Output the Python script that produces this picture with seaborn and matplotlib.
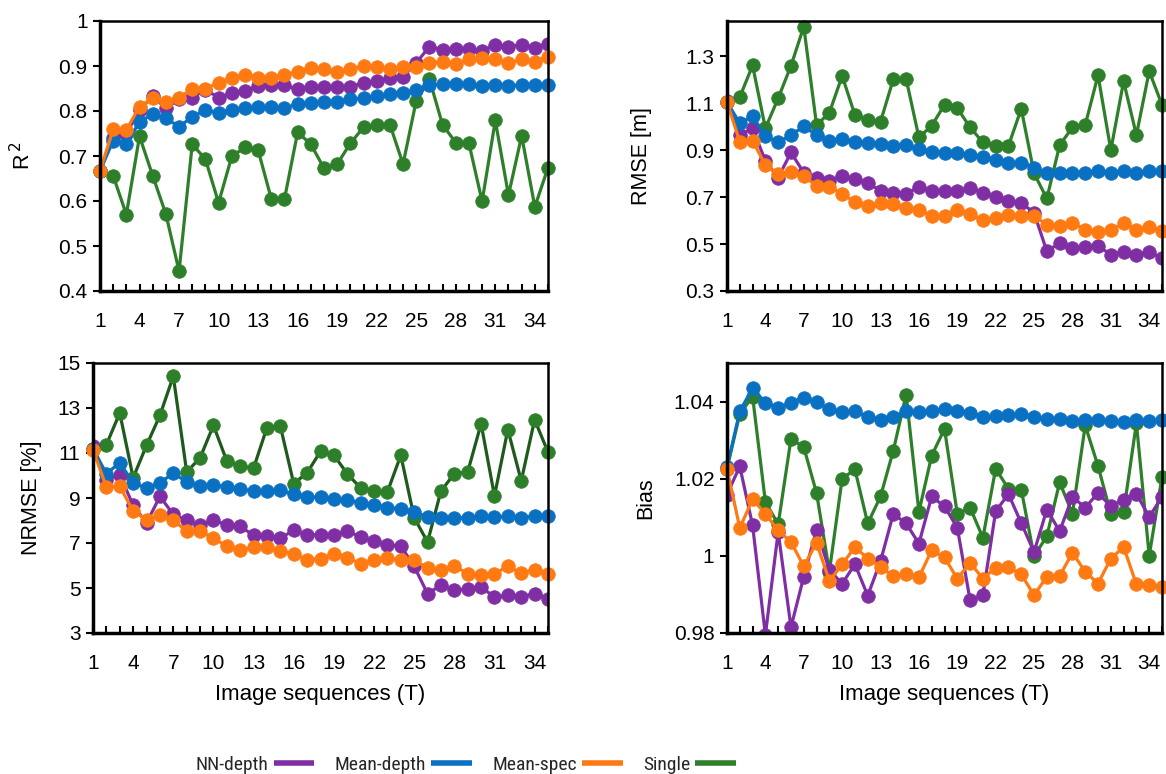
import numpy as np
import pandas as pd
import matplotlib
matplotlib.use("Agg")
import matplotlib.pyplot as plt
from matplotlib.ticker import MultipleLocator, FuncFormatter, FixedLocator
from matplotlib.lines import Line2D
from matplotlib import font_manager
import seaborn as sns

# ---------------- data ----------------
seq = list(range(1, 36))
xtick_labels = [1, 4, 7, 10, 13, 16, 19, 22, 25, 28, 31, 34]
series_names = ["NN-depth", "Mean-depth", "Mean-spec", "Single"]

r2_nn = [0.667, 0.740, 0.750, 0.802, 0.833, 0.806, 0.826, 0.830, 0.847, 0.830,
         0.839, 0.844, 0.856, 0.858, 0.858, 0.848, 0.854, 0.854, 0.853, 0.853,
         0.863, 0.867, 0.873, 0.876, 0.907, 0.943, 0.936, 0.937, 0.937, 0.934,
         0.947, 0.943, 0.947, 0.941, 0.950]
r2_meandepth = [0.667, 0.734, 0.727, 0.776, 0.793, 0.784, 0.765, 0.787, 0.802, 0.796,
                0.802, 0.806, 0.808, 0.808, 0.807, 0.815, 0.817, 0.821, 0.821, 0.827,
                0.828, 0.833, 0.838, 0.839, 0.847, 0.858, 0.860, 0.860, 0.860, 0.856,
                0.858, 0.856, 0.858, 0.858, 0.858]
r2_meanspec = [0.667, 0.759, 0.758, 0.810, 0.828, 0.819, 0.830, 0.849, 0.849, 0.863,
               0.874, 0.881, 0.874, 0.874, 0.881, 0.887, 0.895, 0.893, 0.887, 0.893,
               0.900, 0.897, 0.893, 0.897, 0.897, 0.907, 0.910, 0.904, 0.915, 0.917,
               0.915, 0.906, 0.915, 0.910, 0.921]
r2_single = [0.667, 0.656, 0.570, 0.744, 0.656, 0.571, 0.444, 0.726, 0.693, 0.596,
             0.699, 0.719, 0.713, 0.605, 0.604, 0.753, 0.726, 0.673, 0.682, 0.728,
             0.764, 0.769, 0.770, 0.682, 0.823, 0.871, 0.769, 0.730, 0.728, 0.599,
             0.779, 0.613, 0.745, 0.587, 0.674]

rmse_nn = [1.108, 0.964, 0.993, 0.854, 0.783, 0.890, 0.804, 0.783, 0.769, 0.790,
           0.776, 0.761, 0.726, 0.719, 0.714, 0.744, 0.726, 0.726, 0.726, 0.740,
           0.719, 0.700, 0.683, 0.676, 0.633, 0.469, 0.504, 0.483, 0.487, 0.493,
           0.454, 0.464, 0.454, 0.466, 0.440]
rmse_meandepth = [1.104, 1.015, 1.044, 0.961, 0.933, 0.964, 1.001, 0.964, 0.940, 0.947,
                  0.936, 0.930, 0.926, 0.919, 0.921, 0.904, 0.893, 0.887, 0.887, 0.879,
                  0.871, 0.857, 0.847, 0.847, 0.826, 0.804, 0.801, 0.804, 0.804, 0.809,
                  0.804, 0.809, 0.804, 0.809, 0.809]
rmse_meanspec = [1.104, 0.936, 0.940, 0.836, 0.797, 0.807, 0.790, 0.747, 0.743, 0.714,
                 0.679, 0.661, 0.673, 0.669, 0.655, 0.647, 0.619, 0.621, 0.643, 0.626,
                 0.601, 0.611, 0.623, 0.619, 0.619, 0.583, 0.576, 0.590, 0.561, 0.550,
                 0.559, 0.590, 0.561, 0.573, 0.554]
rmse_single = [1.104, 1.126, 1.261, 0.993, 1.121, 1.259, 1.426, 1.007, 1.059, 1.216,
               1.050, 1.029, 1.021, 1.202, 1.204, 0.954, 1.004, 1.093, 1.079, 0.997,
               0.933, 0.919, 0.919, 1.076, 0.801, 0.694, 0.921, 0.997, 1.007, 1.219,
               0.900, 1.193, 0.964, 1.236, 1.093]

nrmse_nn = [11.30, 9.81, 10.04, 8.67, 7.89, 9.07, 8.27, 8.01, 7.79, 8.01,
            7.81, 7.74, 7.34, 7.30, 7.22, 7.56, 7.37, 7.37, 7.37, 7.53,
            7.27, 7.07, 6.93, 6.87, 5.96, 4.75, 5.12, 4.90, 4.97, 5.04,
            4.60, 4.67, 4.60, 4.75, 4.53]
nrmse_meandepth = [11.19, 10.08, 10.57, 9.67, 9.44, 9.67, 10.11, 9.71, 9.52, 9.59,
                   9.49, 9.41, 9.30, 9.30, 9.34, 9.16, 9.04, 9.04, 8.97, 8.90,
                   8.78, 8.70, 8.57, 8.53, 8.38, 8.16, 8.13, 8.13, 8.13, 8.19,
                   8.16, 8.19, 8.13, 8.19, 8.19]
nrmse_meanspec = [11.15, 9.49, 9.52, 8.42, 8.04, 8.23, 8.01, 7.53, 7.52, 7.22,
                  6.85, 6.67, 6.82, 6.82, 6.63, 6.53, 6.25, 6.30, 6.53, 6.35,
                  6.08, 6.23, 6.33, 6.23, 6.23, 5.90, 5.81, 5.98, 5.64, 5.56,
                  5.64, 5.96, 5.67, 5.81, 5.61]
nrmse_single = [11.19, 11.37, 12.78, 9.90, 11.34, 12.67, 14.41, 10.16, 10.78, 12.23,
                10.64, 10.41, 10.33, 12.13, 12.19, 9.64, 10.12, 11.07, 10.90, 10.08,
                9.44, 9.31, 9.27, 10.90, 8.13, 7.04, 9.31, 10.08, 10.16, 12.30,
                9.09, 12.04, 9.76, 12.48, 11.04]

bias_nn = [1.0159, 1.0232, 1.0079, 0.9795, 1.0062, 0.9815, 0.9946, 1.0068, 0.9963, 0.9928,
           0.9978, 0.9897, 0.9986, 1.0109, 1.0084, 1.0032, 1.0154, 1.0128, 1.0073, 0.9885,
           0.9898, 1.0116, 1.0160, 1.0085, 1.0010, 1.0120, 1.0064, 1.0153, 1.0125, 1.0163,
           1.0128, 1.0146, 1.0161, 1.0101, 1.0153]
bias_meandepth = [1.0230, 1.0375, 1.0435, 1.0397, 1.0384, 1.0397, 1.0410, 1.0398, 1.0380, 1.0372,
                  1.0375, 1.0360, 1.0353, 1.0361, 1.0375, 1.0372, 1.0375, 1.0381, 1.0375, 1.0371,
                  1.0361, 1.0362, 1.0364, 1.0368, 1.0360, 1.0355, 1.0355, 1.0349, 1.0353, 1.0353,
                  1.0349, 1.0347, 1.0353, 1.0349, 1.0351]
bias_meanspec = [1.0226, 1.0072, 1.0147, 1.0109, 1.0066, 1.0036, 0.9973, 1.0034, 0.9935, 0.9978,
                 1.0023, 0.9993, 0.9972, 0.9947, 0.9954, 0.9944, 1.0015, 0.9996, 0.9941, 0.9982,
                 0.9941, 0.9969, 0.9970, 0.9952, 0.9898, 0.9946, 0.9948, 1.0008, 0.9959, 0.9928,
                 0.9993, 1.0023, 0.9926, 0.9924, 0.9920]
bias_single = [1.0226, 1.0368, 1.0413, 1.0140, 1.0082, 1.0303, 1.0282, 1.0163, 0.9959, 1.0200,
               1.0224, 1.0084, 1.0154, 1.0273, 1.0418, 1.0114, 1.0260, 1.0329, 1.0109, 1.0125,
               1.0047, 1.0226, 1.0174, 1.0172, 0.9999, 1.0051, 1.0191, 1.0109, 1.0338, 1.0233,
               1.0109, 1.0114, 1.0344, 1.0000, 1.0204]

# ---------------- style ----------------
sns.set_theme(style="ticks")
plt.rcParams["font.family"] = ["Liberation Sans", "DejaVu Sans"]

colors = {"NN-depth": "#7F2FA3", "Mean-depth": "#0A70C2",
          "Mean-spec": "#FF7A12", "Single": "#2E7F2A"}

W, H = 1166, 774
fig = plt.figure(figsize=(W / 100, H / 100), dpi=100)

def rect(l, t, r, b):
    return [l / W, 1 - b / H, (r - l) / W, (b - t) / H]

panels = [
    dict(rect=rect(100, 21, 548, 291), data=[r2_nn, r2_meandepth, r2_meanspec, r2_single],
         ylim=(0.4, 1.0), yticks=np.arange(0.4, 1.001, 0.1), ylabel="R$^{\\,2}$", xlabel=None,
         single_line=None, labx=-0.145),
    dict(rect=rect(727, 21, 1162, 291), data=[rmse_nn, rmse_meandepth, rmse_meanspec, rmse_single],
         ylim=(0.3, 1.45), yticks=np.arange(0.3, 1.31, 0.2), ylabel="RMSE [m]", xlabel=None,
         single_line=None, labx=-0.172),
    dict(rect=rect(93, 363, 548, 633), data=[nrmse_nn, nrmse_meandepth, nrmse_meanspec, nrmse_single],
         ylim=(3, 15), yticks=np.arange(3, 15.1, 2), ylabel="NRMSE [%]", xlabel="Image sequences (T)",
         single_line="#1E5A1C", labx=-0.112),
    dict(rect=rect(727, 363, 1162, 633), data=[bias_nn, bias_meandepth, bias_meanspec, bias_single],
         ylim=(0.98, 1.05), yticks=np.arange(0.98, 1.041, 0.02), ylabel="Bias", xlabel="Image sequences (T)",
         single_line=None, labx=-0.163),
]

fmt = FuncFormatter(lambda v, p: f"{round(v, 4):g}")

for pnl in panels:
    ax = fig.add_axes(pnl["rect"])
    rows = []
    for name, vals in zip(series_names, pnl["data"]):
        for x, v in zip(seq, vals):
            rows.append((name, x, v))
    df = pd.DataFrame(rows, columns=["series", "T", "value"])
    # draw order: Single at bottom, then NN-depth, Mean-depth, Mean-spec
    for name in ["Single", "NN-depth", "Mean-depth", "Mean-spec"]:
        sub = df[df["series"] == name]
        lc = colors[name]
        if name == "Single" and pnl["single_line"]:
            lc = pnl["single_line"]
        sns.lineplot(data=sub, x="T", y="value", ax=ax, color=lc, linewidth=2.3,
                     marker="o", markersize=9.8, markerfacecolor=colors[name],
                     markeredgecolor=colors[name], markeredgewidth=0.5,
                     legend=False, clip_on=False if name != "NN-depth" else True)
    ax.set_xlim(1, 35)
    ax.set_ylim(*pnl["ylim"])
    ax.yaxis.set_major_locator(FixedLocator(pnl["yticks"]))
    ax.yaxis.set_major_formatter(fmt)
    ax.xaxis.set_major_locator(FixedLocator(xtick_labels))
    ax.xaxis.set_minor_locator(MultipleLocator(1))
    ax.tick_params(axis="x", which="both", direction="in", length=5, width=1.5,
                   labelsize=15, pad=15, colors="black")
    ax.tick_params(axis="y", which="major", direction="out", length=5, width=1.5,
                   labelsize=15, colors="black", pad=4)
    for s in ["left", "bottom"]:
        ax.spines[s].set_linewidth(2.5)
        ax.spines[s].set_color("black")
    for s in ["top", "right"]:
        ax.spines[s].set_visible(True)
        ax.spines[s].set_linewidth(1.8)
        ax.spines[s].set_color("black")
    ax.set_ylabel(pnl["ylabel"], fontsize=15.5, color="black")
    ax.yaxis.set_label_coords(pnl["labx"], 0.5)
    if pnl["xlabel"]:
        ax.set_xlabel(pnl["xlabel"], fontsize=16, color="black", labelpad=8)
    else:
        ax.set_xlabel("")
    ax.grid(False)

# legend font: a condensed face if one is installed, else regular
names = {f.name for f in font_manager.fontManager.ttflist}
narrow = None
for cand in ["Liberation Sans Narrow", "Arial Narrow", "Roboto Condensed",
             "Open Sans Condensed", "Noto Sans Display"]:
    if cand in names:
        narrow = cand
        break
if narrow:
    legend_prop = font_manager.FontProperties(family=[narrow], size=14)
else:
    legend_prop = font_manager.FontProperties(family=["Liberation Sans"], size=13)

handles = [Line2D([], [], color=colors[n], linewidth=4, solid_capstyle="butt")
           for n in series_names]
fig.legend(handles, series_names, loc="center", bbox_to_anchor=(466 / W, 1 - 765 / H),
           ncol=4, frameon=False, markerfirst=False, prop=legend_prop,
           handlelength=2.1, handletextpad=0.25, columnspacing=1.05)

fig.savefig("out.png", dpi=100)
